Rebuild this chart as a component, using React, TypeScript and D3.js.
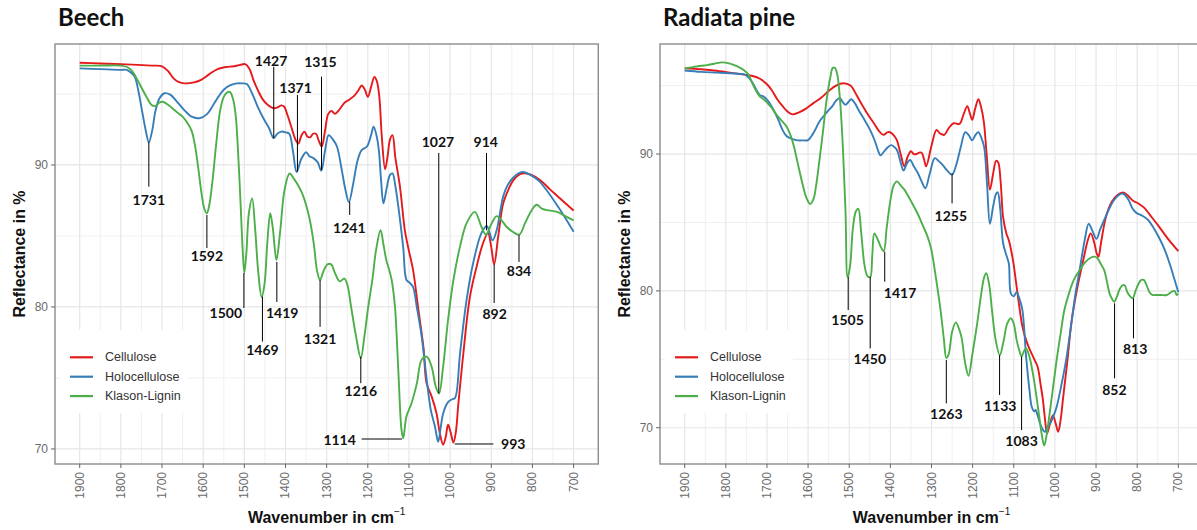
import React from 'react';
import * as d3 from 'd3';

type Pt = [number, number];
type Note = { label: string; w1: number; v1: number; w2: number; v2: number; tw: number; tv: number; anchor: string };

const wavenumberTicks = [1900, 1800, 1700, 1600, 1500, 1400, 1300, 1200, 1100, 1000, 900, 800, 700];
const wavenumberMinor = [1850, 1750, 1650, 1550, 1450, 1350, 1250, 1150, 1050, 950, 850, 750];
const reflectanceTicks = [70, 80, 90];
const reflectanceMinor = [75, 85, 95];
const seriesNames = ['Cellulose', 'Holocellulose', 'Klason-Lignin'];
const seriesColors = ['#E41A1C', '#377EB8', '#4DAF4A'];
const panelTitles = ['Beech', 'Radiata pine'];

const beechCellulose: Pt[] = [
  [1900, 97.2], [1850, 97.15], [1800, 97.1], [1760, 97.05], [1720, 97.0], [1700, 96.95], [1685, 96.6], [1672, 96.1],
  [1660, 95.85], [1645, 95.75], [1625, 95.8], [1605, 96.0], [1585, 96.4], [1565, 96.75], [1545, 96.9], [1525, 96.95],
  [1510, 97.05], [1498, 97.1], [1488, 96.8], [1478, 96.0], [1466, 95.2], [1455, 94.6], [1442, 94.2], [1430, 94.0],
  [1420, 94.05], [1410, 94.2], [1403, 94.1], [1395, 93.5], [1385, 92.6], [1376, 91.8], [1369, 91.5], [1361, 92.1],
  [1354, 92.35], [1347, 92.0], [1340, 91.95], [1333, 92.2], [1326, 92.2], [1319, 91.7], [1312, 91.3], [1304, 92.4],
  [1296, 93.6], [1288, 93.8], [1280, 93.6], [1272, 93.8], [1264, 94.1], [1256, 94.4], [1245, 94.6], [1232, 94.9],
  [1222, 95.3], [1215, 95.6], [1207, 95.3], [1200, 94.8], [1192, 95.5], [1184, 96.2], [1178, 95.9], [1172, 94.8],
  [1166, 92.0], [1158, 89.7], [1152, 90.6], [1146, 91.8], [1140, 92.1], [1133, 90.5], [1122, 88.5], [1110, 85.4],
  [1102, 84.2], [1090, 82.6], [1078, 80.0], [1065, 77.2], [1057, 74.6], [1045, 73.7], [1033, 72.5], [1025, 71.1],
  [1017, 70.3], [1011, 70.8], [1005, 71.7], [999, 71.2], [992, 70.45], [986, 71.2], [980, 73.2], [968, 76.7],
  [952, 80.7], [936, 82.8], [920, 84.5], [908, 85.2], [900, 84.2], [893, 83.0], [883, 85.0], [871, 87.3], [858, 88.3],
  [847, 88.9], [830, 89.35], [814, 89.4], [795, 89.2], [776, 88.8], [758, 88.3], [739, 87.8], [720, 87.3], [700, 86.8],
];

const beechHolocellulose: Pt[] = [
  [1900, 96.8], [1850, 96.75], [1800, 96.7], [1786, 96.7], [1775, 96.5], [1766, 96.2], [1758, 95.3], [1749, 93.9],
  [1740, 92.5], [1732, 91.6], [1724, 92.4], [1716, 93.8], [1706, 94.7], [1694, 95.05], [1680, 94.95], [1665, 94.5],
  [1647, 93.9], [1628, 93.4], [1608, 93.3], [1590, 93.6], [1576, 94.2], [1563, 94.8], [1550, 95.3], [1535, 95.6],
  [1518, 95.75], [1505, 95.75], [1494, 95.7], [1482, 95.1], [1466, 94.0], [1452, 93.2], [1440, 92.6], [1429, 91.9],
  [1420, 92.2], [1410, 92.35], [1400, 92.3], [1391, 92.2], [1382, 91.0], [1373, 89.5], [1362, 90.4], [1350, 90.9],
  [1341, 90.6], [1333, 90.5], [1322, 90.2], [1313, 89.6], [1304, 91.0], [1295, 92.1], [1285, 91.8], [1275, 91.3],
  [1263, 89.6], [1254, 88.2], [1246, 87.4], [1236, 88.6], [1225, 90.3], [1215, 91.05], [1202, 91.3], [1192, 92.1],
  [1186, 92.7], [1179, 92.1], [1173, 91.0], [1168, 89.0], [1162, 87.3], [1154, 88.4], [1146, 89.3], [1140, 89.4],
  [1133, 88.5], [1126, 87.1], [1114, 84.2], [1106, 81.9], [1098, 81.7], [1090, 81.4], [1081, 80.0], [1069, 77.9],
  [1057, 74.9], [1047, 72.75], [1037, 71.6], [1029, 70.5], [1023, 71.5], [1017, 72.5], [1005, 73.3], [995, 73.5],
  [988, 73.6], [976, 76.7], [960, 80.5], [944, 83.1], [924, 85.2], [911, 85.7], [897, 84.7], [887, 85.4], [871, 87.8],
  [860, 88.6], [847, 89.1], [835, 89.4], [822, 89.5], [805, 89.3], [785, 88.9], [765, 88.2], [748, 87.5], [725, 86.5],
  [700, 85.3],
];

const beechLignin: Pt[] = [
  [1900, 97.0], [1850, 97.0], [1800, 97.0], [1785, 96.9], [1772, 96.6], [1760, 96.0], [1749, 95.4], [1736, 94.7],
  [1726, 94.25], [1716, 94.15], [1706, 94.4], [1698, 94.45], [1684, 94.2], [1665, 93.75], [1650, 93.4], [1637, 92.9],
  [1628, 92.4], [1620, 91.4], [1612, 89.8], [1604, 88.0], [1597, 86.9], [1591, 86.6], [1585, 87.2], [1578, 88.7],
  [1569, 91.3], [1559, 93.8], [1550, 94.8], [1542, 95.1], [1535, 95.15], [1528, 94.7], [1521, 93.5], [1515, 90.8],
  [1509, 87.2], [1504, 84.0], [1500, 82.4], [1495, 83.8], [1489, 86.6], [1481, 87.65], [1474, 85.6], [1466, 82.4],
  [1458, 80.7], [1451, 81.6], [1444, 84.6], [1437, 86.6], [1431, 85.6], [1422, 83.3], [1413, 85.3], [1402, 88.3],
  [1390, 89.4], [1379, 89.0], [1368, 88.5], [1358, 87.9], [1349, 87.1], [1340, 86.0], [1331, 84.4], [1323, 82.5],
  [1316, 81.9], [1308, 82.5], [1298, 83.0], [1289, 83.0], [1280, 82.4], [1268, 81.8], [1257, 82.0], [1250, 81.6],
  [1240, 79.9], [1229, 78.0], [1217, 76.4], [1208, 78.0], [1199, 80.0], [1189, 81.9], [1180, 84.0], [1169, 85.4],
  [1162, 84.4], [1155, 83.3], [1148, 82.6], [1142, 81.9], [1134, 80.0], [1126, 75.6], [1118, 71.3], [1114, 70.75],
  [1106, 72.3], [1094, 73.2], [1081, 74.6], [1069, 76.3], [1057, 76.5], [1045, 75.8], [1035, 74.4], [1027, 73.9],
  [1017, 75.8], [1005, 79.1], [992, 81.9], [976, 84.25], [960, 85.9], [940, 86.7], [924, 85.65], [913, 85.1],
  [899, 85.9], [887, 86.4], [875, 86.1], [863, 85.65], [848, 85.3], [832, 85.1], [818, 85.9], [806, 86.6], [790, 87.2],
  [776, 86.9], [760, 86.8], [740, 86.7], [720, 86.4], [700, 86.1],
];

const pineCellulose: Pt[] = [
  [1900, 96.26], [1860, 96.2], [1828, 96.1], [1790, 95.95], [1754, 95.8], [1735, 95.7], [1717, 95.5], [1700, 95.1],
  [1689, 94.7], [1675, 94.0], [1662, 93.5], [1650, 93.1], [1638, 92.9], [1622, 93.05], [1606, 93.3], [1588, 93.7],
  [1569, 94.1], [1550, 94.6], [1532, 95.0], [1514, 95.17], [1497, 95.0], [1482, 94.3], [1467, 93.5], [1455, 92.9],
  [1440, 92.25], [1428, 91.7], [1417, 91.4], [1406, 91.6], [1398, 91.55], [1390, 91.3], [1384, 91.0], [1375, 90.0],
  [1366, 89.1], [1358, 89.8], [1350, 90.2], [1343, 90.0], [1336, 90.0], [1330, 90.1], [1324, 90.1], [1318, 89.6],
  [1313, 89.1], [1300, 90.6], [1288, 91.75], [1279, 91.5], [1269, 91.4], [1258, 91.9], [1246, 92.25], [1232, 92.2],
  [1222, 92.9], [1213, 93.5], [1207, 93.0], [1201, 92.5], [1194, 93.3], [1186, 94.0], [1180, 93.5], [1173, 92.4],
  [1166, 90.0], [1158, 87.4], [1150, 88.6], [1143, 89.5], [1138, 89.4], [1132, 88.0], [1126, 85.4], [1118, 84.2],
  [1112, 83.7], [1102, 82.25], [1093, 80.3], [1079, 77.4], [1070, 76.4], [1061, 75.7], [1050, 75.0], [1042, 74.45],
  [1035, 73.2], [1029, 72.0], [1024, 70.6], [1019, 69.6], [1012, 70.3], [1005, 70.9], [998, 70.3], [992, 69.7],
  [986, 70.6], [980, 72.2], [970, 74.8], [959, 77.9], [945, 80.3], [931, 82.25], [920, 83.7], [913, 84.2], [905, 83.6],
  [898, 82.7], [894, 82.5], [888, 83.5], [876, 85.4], [862, 86.5], [848, 87.0], [835, 87.2], [824, 87.0], [811, 86.6],
  [798, 86.4], [784, 86.1], [765, 85.4], [747, 84.7], [725, 83.8], [700, 82.9],
];

const pineHolocellulose: Pt[] = [
  [1900, 96.1], [1860, 96.0], [1820, 95.95], [1790, 95.9], [1754, 95.8], [1745, 95.6], [1735, 95.2], [1726, 94.7],
  [1717, 94.3], [1708, 94.2], [1698, 93.9], [1689, 93.5], [1680, 93.0], [1671, 92.4], [1662, 91.75], [1652, 91.3],
  [1643, 91.15], [1625, 91.0], [1610, 91.0], [1601, 91.0], [1592, 91.3], [1583, 91.75], [1572, 92.4], [1560, 92.85],
  [1550, 93.2], [1541, 93.5], [1532, 93.9], [1523, 94.1], [1516, 93.8], [1509, 93.6], [1502, 93.8], [1495, 94.0],
  [1486, 93.7], [1477, 93.2], [1463, 92.5], [1449, 91.75], [1437, 90.9], [1428, 90.1], [1424, 89.9], [1415, 90.2],
  [1406, 90.5], [1398, 90.65], [1390, 90.5], [1384, 90.3], [1376, 89.5], [1368, 88.8], [1360, 89.3], [1352, 89.56],
  [1343, 89.1], [1333, 88.6], [1324, 88.0], [1315, 87.5], [1304, 88.6], [1292, 89.7], [1283, 89.5], [1273, 89.2],
  [1262, 88.8], [1250, 88.5], [1240, 89.2], [1229, 90.5], [1218, 91.6], [1210, 91.4], [1201, 91.0], [1193, 91.4],
  [1186, 91.6], [1179, 91.2], [1172, 90.5], [1165, 87.8], [1158, 84.9], [1150, 86.2], [1143, 87.1], [1139, 87.2],
  [1133, 86.0], [1126, 83.5], [1118, 82.6], [1112, 82.0], [1107, 79.8], [1100, 79.6], [1093, 79.9], [1086, 79.4],
  [1079, 78.6], [1070, 75.2], [1062, 72.8], [1056, 71.5], [1050, 71.2], [1047, 71.3], [1042, 70.9], [1036, 70.3],
  [1028, 69.8], [1024, 69.7], [1017, 70.1], [1010, 70.4], [1003, 70.9], [996, 71.5], [985, 73.0], [973, 74.9],
  [960, 77.6], [950, 79.8], [943, 81.0], [936, 82.25], [927, 83.8], [918, 84.9], [909, 84.4], [899, 83.8], [890, 84.5],
  [880, 85.2], [868, 86.0], [857, 86.6], [845, 87.0], [834, 87.1], [822, 86.7], [811, 86.0], [802, 85.7], [788, 85.5],
  [774, 85.2], [760, 84.6], [747, 83.9], [733, 83.0], [719, 81.8], [710, 80.9], [700, 79.9],
];

const pineLignin: Pt[] = [
  [1900, 96.26], [1880, 96.35], [1860, 96.45], [1846, 96.5], [1828, 96.6], [1809, 96.7], [1790, 96.6], [1772, 96.4],
  [1755, 96.1], [1745, 95.8], [1736, 95.2], [1726, 94.6], [1717, 94.2], [1708, 94.0], [1698, 93.7], [1689, 93.4],
  [1680, 93.0], [1666, 92.5], [1652, 92.0], [1643, 91.4], [1634, 90.5], [1625, 89.3], [1615, 88.0], [1604, 86.8],
  [1595, 86.35], [1587, 86.7], [1580, 87.8], [1573, 89.4], [1564, 91.6], [1555, 93.95], [1546, 95.6], [1540, 96.3],
  [1535, 96.3], [1529, 95.8], [1522, 93.8], [1515, 90.2], [1509, 85.8], [1504, 81.0], [1498, 81.8], [1491, 84.6],
  [1484, 85.8], [1478, 86.0], [1471, 84.3], [1463, 81.9], [1456, 81.1], [1449, 81.0], [1444, 82.6], [1439, 84.2],
  [1430, 83.7], [1423, 83.2], [1416, 82.9], [1409, 84.6], [1400, 86.6], [1392, 87.7], [1384, 88.0], [1375, 87.7],
  [1366, 87.4], [1356, 86.9], [1347, 86.4], [1333, 85.6], [1320, 84.7], [1310, 84.0], [1301, 83.1], [1292, 81.5],
  [1285, 80.1], [1278, 78.6], [1270, 76.5], [1264, 75.1], [1258, 75.4], [1250, 77.0], [1241, 77.7], [1234, 77.3],
  [1227, 76.6], [1218, 74.7], [1210, 73.8], [1201, 75.3], [1190, 77.4], [1180, 79.6], [1172, 81.0], [1167, 81.3],
  [1160, 80.5], [1153, 78.6], [1144, 76.4], [1134, 75.3], [1125, 76.3], [1116, 77.6], [1107, 78.0], [1100, 77.6],
  [1093, 76.4], [1086, 75.6], [1081, 75.2], [1075, 75.6], [1070, 75.8], [1062, 75.2], [1052, 73.7], [1045, 72.3],
  [1038, 70.8], [1032, 69.5], [1026, 68.7], [1020, 69.5], [1015, 70.55], [1006, 72.6], [996, 74.9], [986, 76.9],
  [977, 78.6], [966, 79.8], [954, 80.8], [940, 81.5], [926, 82.1], [914, 82.4], [904, 82.5], [897, 82.4], [889, 82.0],
  [880, 81.5], [873, 80.6], [867, 79.8], [861, 79.4], [856, 79.2], [849, 79.6], [843, 80.1], [836, 80.4], [830, 80.4],
  [824, 79.9], [817, 79.6], [811, 79.45], [804, 80.0], [797, 80.5], [790, 80.8], [784, 80.8], [777, 80.4], [770, 79.9],
  [763, 79.7], [756, 79.7], [742, 79.7], [728, 79.7], [718, 79.9], [709, 80.0], [704, 79.7], [700, 79.8],
];

const beechNotes: Note[] = [
  { label: '1731', w1: 1732, v1: 91.64, w2: 1732, v2: 88.47, tw: 1732, tv: 87.54, anchor: 'middle' },
  { label: '1592', w1: 1591, v1: 86.48, w2: 1591, v2: 84.15, tw: 1591, tv: 83.6, anchor: 'middle' },
  { label: '1427', w1: 1428.5, v1: 96.92, w2: 1428.5, v2: 91.88, tw: 1435, tv: 97.39, anchor: 'middle' },
  { label: '1371', w1: 1371, v1: 94.93, w2: 1371, v2: 89.53, tw: 1375.6, tv: 95.47, anchor: 'middle' },
  { label: '1315', w1: 1312.5, v1: 96.22, w2: 1312.5, v2: 89.65, tw: 1315, tv: 97.27, anchor: 'middle' },
  { label: '1241', w1: 1244, v1: 87.42, w2: 1244, v2: 86.48, tw: 1245, tv: 85.58, anchor: 'middle' },
  { label: '1027', w1: 1027.6, v1: 90.85, w2: 1027.6, v2: 73.92, tw: 1029.5, tv: 91.64, anchor: 'middle' },
  { label: '914', w1: 911.6, v1: 90.85, w2: 911.6, v2: 85.4, tw: 913.5, tv: 91.64, anchor: 'middle' },
  { label: '834', w1: 832.7, v1: 85.07, w2: 832.7, v2: 83.17, tw: 832.7, tv: 82.6, anchor: 'middle' },
  { label: '892', w1: 893, v1: 83.0, w2: 893, v2: 80.28, tw: 892, tv: 79.56, anchor: 'middle' },
  { label: '1500', w1: 1501, v1: 82.39, w2: 1501, v2: 79.93, tw: 1505.6, tv: 79.58, anchor: 'end' },
  { label: '1419', w1: 1421, v1: 83.17, w2: 1421, v2: 80.35, tw: 1408, tv: 79.58, anchor: 'middle' },
  { label: '1469', w1: 1456, v1: 80.73, w2: 1456, v2: 77.56, tw: 1456, tv: 76.97, anchor: 'middle' },
  { label: '1321', w1: 1316, v1: 81.9, w2: 1316, v2: 78.6, tw: 1316, tv: 77.8, anchor: 'middle' },
  { label: '1216', w1: 1217, v1: 76.5, w2: 1217, v2: 74.63, tw: 1217, tv: 74.1, anchor: 'middle' },
  { label: '1114', w1: 1215, v1: 70.7, w2: 1117, v2: 70.7, tw: 1229, tv: 70.7, anchor: 'end' },
  { label: '993', w1: 989, v1: 70.35, w2: 895, v2: 70.35, tw: 876.3, tv: 70.35, anchor: 'start' },
];

const pineNotes: Note[] = [
  { label: '1255', w1: 1250, v1: 88.59, w2: 1250, v2: 86.4, tw: 1253, tv: 85.54, anchor: 'middle' },
  { label: '1505', w1: 1502.5, v1: 81.03, w2: 1502.5, v2: 78.6, tw: 1504, tv: 77.92, anchor: 'middle' },
  { label: '1450', w1: 1449, v1: 81.03, w2: 1449, v2: 75.8, tw: 1450, tv: 75.09, anchor: 'middle' },
  { label: '1417', w1: 1413.7, v1: 82.86, w2: 1413.7, v2: 80.67, tw: 1416, tv: 79.9, anchor: 'start' },
  { label: '1263', w1: 1264, v1: 74.95, w2: 1264, v2: 71.78, tw: 1264, tv: 71.05, anchor: 'middle' },
  { label: '1133', w1: 1134.5, v1: 75.31, w2: 1134.5, v2: 72.39, tw: 1133, tv: 71.59, anchor: 'middle' },
  { label: '1083', w1: 1081, v1: 75.19, w2: 1081, v2: 69.83, tw: 1081, tv: 69.1, anchor: 'middle' },
  { label: '852', w1: 855, v1: 79.09, w2: 855, v2: 73.61, tw: 855.5, tv: 72.8, anchor: 'middle' },
  { label: '813', w1: 809, v1: 79.45, w2: 809, v2: 76.53, tw: 805, tv: 75.8, anchor: 'middle' },
];

const X_DOMAIN: [number, number] = [1960, 640];
const TOP = 44;
const BOTTOM = 464;

const TITLE_FONT = "Lato, 'Open Sans', sans-serif";
const AXIS_FONT = "'Liberation Sans', Arial, sans-serif";

type PanelProps = {
  id: string;
  title: string;
  x0: number;
  x1: number;
  yDomain: [number, number];
  series: Pt[][];
  notes: Note[];
};

function Panel({ id, title, x0, x1, yDomain, series, notes }: PanelProps) {
  const x = d3.scaleLinear().domain(X_DOMAIN).range([x0, x1]);
  const y = d3.scaleLinear().domain(yDomain).range([BOTTOM, TOP]);
  const line = d3
    .line<Pt>()
    .x((d) => x(d[0]))
    .y((d) => y(d[1]))
    .curve(d3.curveCatmullRom.alpha(0.5));
  const cx = (x0 + x1) / 2;
  const cy = (TOP + BOTTOM) / 2;
  return (
    <g>
      <defs>
        <clipPath id={`clip-${id}`}>
          <rect x={x0} y={TOP} width={x1 - x0} height={BOTTOM - TOP} />
        </clipPath>
      </defs>
      <text x={x0 + 3} y={26} fontFamily={TITLE_FONT} fontWeight={700} fontSize={24} fill="#111">
        {title}
      </text>
      <rect x={x0} y={TOP} width={x1 - x0} height={BOTTOM - TOP} fill="#fff" />
      {wavenumberMinor.map((w) => (
        <line key={`mx${w}`} x1={x(w)} x2={x(w)} y1={TOP} y2={BOTTOM} stroke="#f0f0f0" strokeWidth={1} />
      ))}
      {reflectanceMinor
        .filter((v) => v > yDomain[0] && v < yDomain[1])
        .map((v) => (
          <line key={`my${v}`} x1={x0} x2={x1} y1={y(v)} y2={y(v)} stroke="#f0f0f0" strokeWidth={1} />
        ))}
      {wavenumberTicks.map((w) => (
        <line key={`gx${w}`} x1={x(w)} x2={x(w)} y1={TOP} y2={BOTTOM} stroke="#e6e6e6" strokeWidth={1.2} />
      ))}
      {reflectanceTicks.map((v) => (
        <line key={`gy${v}`} x1={x0} x2={x1} y1={y(v)} y2={y(v)} stroke="#e6e6e6" strokeWidth={1.2} />
      ))}
      <g clipPath={`url(#clip-${id})`}>
        {series.map((s, i) => (
          <path key={seriesNames[i]} d={line(s) || ''} fill="none" stroke={seriesColors[i]} strokeWidth={1.9} strokeLinejoin="round" />
        ))}
      </g>
      <rect x={x0 + 5} y={330} width={128} height={83} fill="#fff" />
      {seriesNames.map((name, i) => (
        <g key={name}>
          <line x1={x0 + 15} x2={x0 + 38} y1={357.3 + i * 19.4} y2={357.3 + i * 19.4} stroke={seriesColors[i]} strokeWidth={2.2} />
          <text x={x0 + 50} y={357.3 + i * 19.4} dominantBaseline="central" fontFamily={AXIS_FONT} fontSize={12.5} fill="#333">
            {name}
          </text>
        </g>
      ))}
      {notes.map((n) => (
        <g key={n.label}>
          <line x1={x(n.w1)} y1={y(n.v1)} x2={x(n.w2)} y2={y(n.v2)} stroke="#000" strokeWidth={1} />
          <text
            x={x(n.tw)}
            y={y(n.tv)}
            textAnchor={n.anchor as any}
            dominantBaseline="central"
            fontFamily={TITLE_FONT}
            fontWeight={700}
            fontSize={14}
            fill="#111"
          >
            {n.label}
          </text>
        </g>
      ))}
      <rect x={x0} y={TOP} width={x1 - x0} height={BOTTOM - TOP} fill="none" stroke="#8c8c8c" strokeWidth={1.4} />
      {reflectanceTicks.map((v) => (
        <g key={`ty${v}`}>
          <line x1={x0 - 4} x2={x0} y1={y(v)} y2={y(v)} stroke="#666" strokeWidth={1} />
          <text x={x0 - 7} y={y(v)} textAnchor="end" dominantBaseline="central" fontFamily={AXIS_FONT} fontSize={12} fill="#6b6b6b">
            {v}
          </text>
        </g>
      ))}
      {wavenumberTicks.map((w) => (
        <g key={`tx${w}`}>
          <line x1={x(w)} x2={x(w)} y1={BOTTOM} y2={BOTTOM + 4} stroke="#666" strokeWidth={1} />
          <text
            transform={`translate(${x(w)},${BOTTOM + 8}) rotate(-90)`}
            textAnchor="end"
            dominantBaseline="central"
            fontFamily={AXIS_FONT}
            fontSize={12}
            fill="#6b6b6b"
          >
            {w}
          </text>
        </g>
      ))}
      <text x={cx} y={523} textAnchor="middle" fontFamily={AXIS_FONT} fontWeight={700} fontSize={16} fill="#111">
        Wavenumber in cm
        <tspan fontSize={10} fontWeight={400} dy={-8}>
          −1
        </tspan>
      </text>
      <text
        transform={`translate(${x0 - 30},${cy}) rotate(-90)`}
        textAnchor="middle"
        fontFamily={AXIS_FONT}
        fontWeight={700}
        fontSize={16}
        fill="#111"
      >
        Reflectance in %
      </text>
    </g>
  );
}

export default function App() {
  return (
    <svg
      width={1197}
      height={530}
      viewBox="0 0 1197 530"
      style={{ position: 'absolute', left: 0, top: 0, background: '#fff' }}
    >
      <rect x={0} y={0} width={1197} height={530} fill="#fff" />
      <Panel
        id="beech"
        title={panelTitles[0]}
        x0={55}
        x1={598.3}
        yDomain={[68.94, 98.52]}
        series={[beechCellulose, beechHolocellulose, beechLignin]}
        notes={beechNotes}
      />
      <Panel
        id="pine"
        title={panelTitles[1]}
        x0={660}
        x1={1203}
        yDomain={[67.35, 98.04]}
        series={[pineCellulose, pineHolocellulose, pineLignin]}
        notes={pineNotes}
      />
    </svg>
  );
}
